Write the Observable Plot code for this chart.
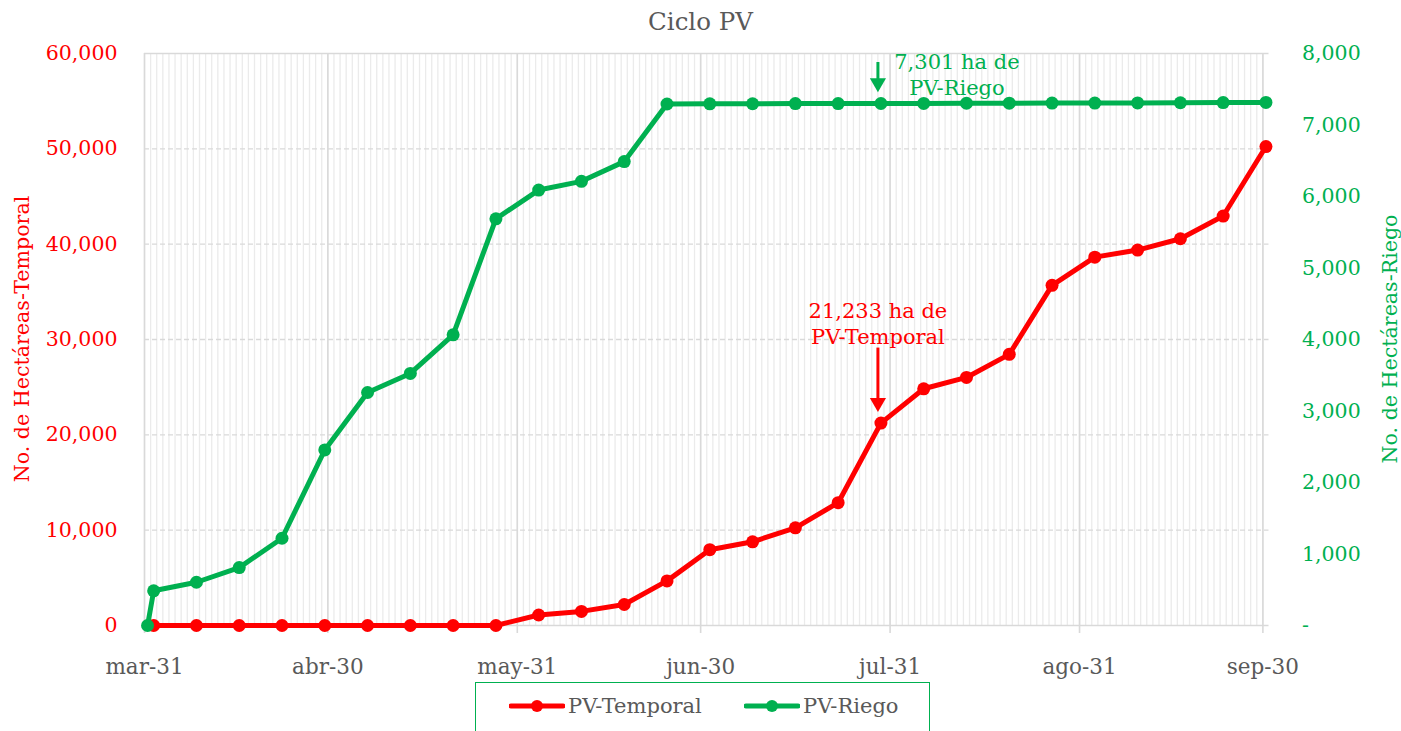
<!DOCTYPE html>
<html>
<head>
<meta charset="utf-8">
<script src="https://cdn.jsdelivr.net/npm/d3@7"></script>
<script src="https://cdn.jsdelivr.net/npm/@observablehq/plot@0.6"></script>
<style>
  html, body { margin: 0; padding: 0; background: #fff; }
  body { width: 1401px; height: 731px; position: relative; overflow: hidden; font-family: "DejaVu Serif", serif; }
  #chart { position: absolute; left: 0; top: 0; }
  .abs { position: absolute; z-index: 2; white-space: nowrap; }
  #title { left: 0; width: 1401px; top: 6px; text-align: center; font-size: 24.5px; line-height: 32px; color: #595959; }
  .ytitle { font-size: 20.6px; transform: translate(-50%, -50%) rotate(-90deg); line-height: 24px; }
  #legend { left: 475px; top: 682px; width: 455px; height: 70px; border: 1.5px solid #00B050; box-sizing: border-box; }
  .leg-item { position: absolute; top: 10px; font-size: 21px; color: #595959; line-height: 26px; display: flex; align-items: center; }
  .leg-item svg { margin-right: 3px; }
</style>
</head>
<body>
<div id="chart"></div>
<div id="title" class="abs">Ciclo PV</div>
<div id="ytl" class="abs ytitle" style="left:22px; top:339px; color:#FF0000;">No. de Hectáreas-Temporal</div>
<div id="ytr" class="abs ytitle" style="left:1390px; top:339px; color:#00B050;">No. de Hectáreas-Riego</div>
<div id="legend" class="abs"></div>
<script>
// ---- Data ----
const fechas = ["2023-03-31","2023-04-01","2023-04-08","2023-04-15","2023-04-22","2023-04-29",
  "2023-05-06","2023-05-13","2023-05-20","2023-05-27","2023-06-03","2023-06-10","2023-06-17",
  "2023-06-24","2023-07-01","2023-07-08","2023-07-15","2023-07-22","2023-07-29","2023-08-05",
  "2023-08-12","2023-08-19","2023-08-26","2023-09-02","2023-09-09","2023-09-16","2023-09-23","2023-09-30"];
const temporal = [null, 0, 0, 0, 0, 0, 0, 0, 0, 0, 1100, 1480, 2200, 4680, 7950, 8780, 10250, 12880,
  21233, 24830, 26020, 28440, 35680, 38640, 39380, 40570, 42950, 50240];
const riego = [0, 485, 605, 810, 1220, 2455, 3259, 3525, 4065, 5688, 6090, 6212, 6488, 7294, 7296,
  7297, 7299, 7300, 7301, 7302, 7304, 7305, 7306, 7307, 7309, 7311, 7313, 7316];
const seriesNames = ["PV-Temporal", "PV-Riego"];
const seriesColors = ["#FF0000", "#00B050"];
const xTickDates = ["2023-03-31","2023-04-30","2023-05-31","2023-06-30","2023-07-31","2023-08-31","2023-09-30"];
const xTickLabels = ["mar-31","abr-30","may-31","jun-30","jul-31","ago-31","sep-30"];
const yLeftTicks = [0, 10000, 20000, 30000, 40000, 50000, 60000];
const yRightTicks = [0, 1000, 2000, 3000, 4000, 5000, 6000, 7000, 8000];
const annotations = [
  {fecha: "2023-07-29", serie: "PV-Temporal", value: 21233, label: "21,233 ha de\nPV-Temporal"},
  {fecha: "2023-07-29", serie: "PV-Riego", value: 7301, label: "7,301 ha de\nPV-Riego"}
];

// ---- Build ----
const parse = d3.utcParse("%Y-%m-%d");
const yMax = 60000, yRightMax = 8000;
const factor = yMax / yRightMax;
const W = 1401, H = 731, mT = 53, mB = 106, mL = 144, mR = 132.5;
const unitsPerPx = yMax / (H - mT - mB);
const xStart = parse("2023-03-31"), xEnd = parse("2023-10-01");
const mid = d => d3.utcHour.offset(d, 12);

const tempData = fechas.map((f, i) => ({fecha: parse(f), v: temporal[i]})).filter(d => d.v != null);
const riegoData = fechas.map((f, i) => ({fecha: parse(f), v: riego[i] * factor}));
const tickDates = xTickDates.map(parse);
const tickLabelMap = new Map(tickDates.map((d, i) => [+d, xTickLabels[i]]));
const days = d3.utcDay.range(xStart, xEnd);

const ann = annotations.map(a => {
  const isR = a.serie === "PV-Riego";
  const v = isR ? a.value * factor : a.value;
  return {
    x: mid(parse(a.fecha)), v, label: a.label, color: isR ? seriesColors[1] : seriesColors[0],
    textDy: isR ? -30 : -100, textDx: isR ? 76 : -3,
    shaftTop: v + (isR ? 41 : 75) * unitsPerPx,
    shaftBot: v + (isR ? 23 : 24) * unitsPerPx,
    headDy: -20.5
  };
});

const fmt = d3.format(",");
const plot = Plot.plot({
  width: W, height: H,
  marginTop: mT, marginBottom: mB, marginLeft: mL, marginRight: mR,
  style: {fontFamily: "DejaVu Serif", fontSize: "20px", background: "transparent"},
  x: {type: "utc", domain: [xStart, xEnd]},
  y: {domain: [0, yMax]},
  marks: [
    Plot.ruleX(days, {stroke: "#ebebeb", strokeWidth: 1.3}),
    Plot.ruleY(yLeftTicks.filter(v => v > 0 && v < yMax), {stroke: "#d9d9d9", strokeWidth: 1.3, strokeDasharray: "5,3"}),
    Plot.ruleY([yMax], {stroke: "#d9d9d9", strokeWidth: 1.3}),
    Plot.ruleX(tickDates, {stroke: "#d9d9d9", strokeWidth: 1.6, insetBottom: -8}),
    Plot.ruleY([0], {stroke: "#d9d9d9", strokeWidth: 1.6}),
    Plot.axisX({ticks: tickDates, tickSize: 0, tickPadding: 33, tickFormat: d => tickLabelMap.get(+d),
      color: "#595959", fontSize: 21.5, label: null}),
    Plot.axisY({ticks: yLeftTicks, tickSize: 0, tickPadding: 27, tickFormat: fmt,
      color: seriesColors[0], fontSize: 20.5, label: null}),
    Plot.axisY({anchor: "right", ticks: yRightTicks.map(v => v * factor), tickSize: 0, tickPadding: 33,
      tickFormat: d => d === 0 ? "-" : fmt(Math.round(d / factor)), color: seriesColors[1], fontSize: 20.5, label: null}),
    Plot.line(tempData, {x: d => mid(d.fecha), y: "v", stroke: seriesColors[0], strokeWidth: 5}),
    Plot.dot(tempData, {x: d => mid(d.fecha), y: "v", fill: seriesColors[0], r: 6.5}),
    Plot.line(riegoData, {x: d => mid(d.fecha), y: "v", stroke: seriesColors[1], strokeWidth: 5}),
    Plot.dot(riegoData, {x: d => mid(d.fecha), y: "v", fill: seriesColors[1], r: 6.5}),
    // annotations
    Plot.ruleX(ann, {x: "x", y1: "shaftTop", y2: "shaftBot", stroke: "color", strokeWidth: 3, dx: -3}),
    Plot.dot(ann, {x: "x", y: "v", symbol: "triangle", rotate: 180, r: 6, fill: "color", dx: -3}),
    Plot.text(ann, {x: "x", y: "v", text: "label", fill: "color", fontSize: 21, lineHeight: 1.24,
      lineAnchor: "middle", textAnchor: "middle"})
  ]
});
document.getElementById("chart").appendChild(plot);

// Per-datum pixel offsets for the annotation pieces
(function adjust() {
  const groups = plot.querySelectorAll("g[aria-label='text']");
  const tg = groups[groups.length - 1];
  if (tg) tg.querySelectorAll("text").forEach((t, i) => {
    const a = ann[i];
    const tr = t.getAttribute("transform") || "";
    t.setAttribute("transform", tr + ` translate(${a.textDx},${a.textDy})`);
  });
  const dg = plot.querySelectorAll("g[aria-label='dot']");
  const hg = dg[dg.length - 1];
  if (hg) hg.querySelectorAll("path").forEach((p, i) => {
    const a = ann[i];
    const tr = p.getAttribute("transform") || "";
    p.setAttribute("transform", `translate(0,${a.headDy}) ` + tr);
  });
})();

// Legend
const legend = document.getElementById("legend");
const legPos = [33, 268];
seriesNames.forEach((name, i) => {
  const item = document.createElement("div");
  item.className = "leg-item";
  item.style.left = legPos[i] + "px";
  item.innerHTML = `<svg width="56" height="14"><line x1="2" y1="7" x2="54" y2="7" stroke="${seriesColors[i]}" stroke-width="5" stroke-linecap="round"/><circle cx="28" cy="7" r="6" fill="${seriesColors[i]}"/></svg><span>${name}</span>`;
  legend.appendChild(item);
});
</script>
</body>
</html>
